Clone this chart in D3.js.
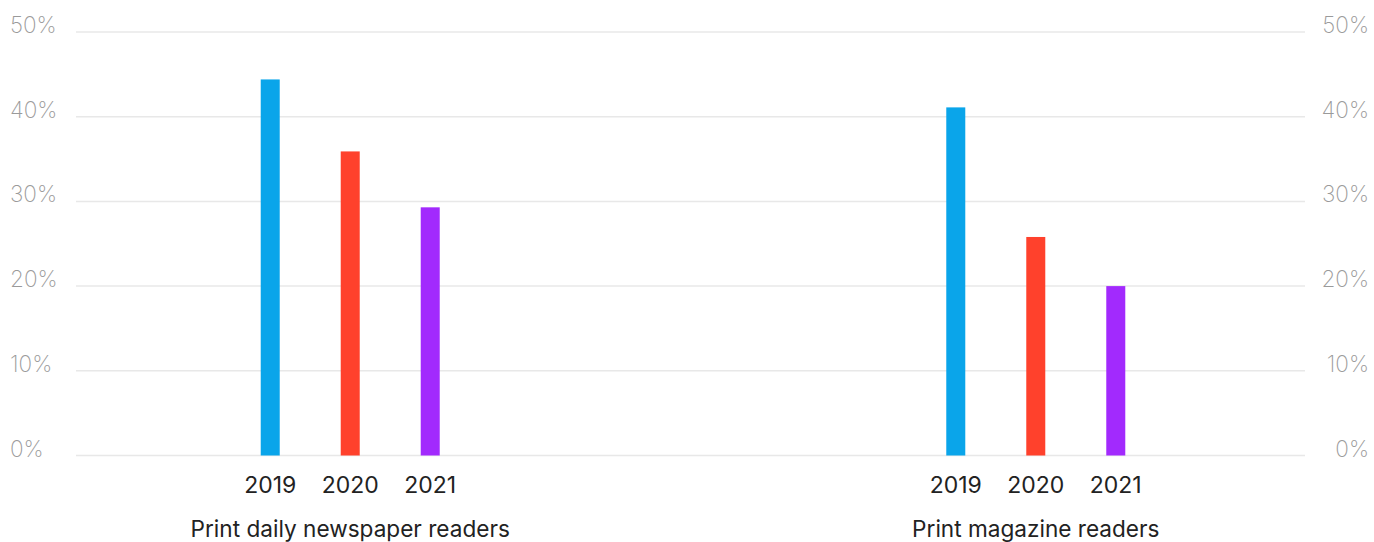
<!DOCTYPE html>
<html>
<head>
<meta charset="utf-8">
<script src="https://cdn.jsdelivr.net/npm/d3@7/dist/d3.min.js"></script>
<style>
  html, body { margin: 0; padding: 0; background: #fff; }
  svg { display: block; }
  .tick-label { font-family: Inter, "Open Sans", sans-serif; font-weight: 200; font-size: 22.5px; fill: #9a9a9a; }
  .year-label { font-family: Inter, "Open Sans", sans-serif; font-weight: 400; font-size: 23px; fill: #222; }
  .group-label { font-family: Inter, "Open Sans", sans-serif; font-weight: 400; font-size: 22.6px; fill: #222; }
</style>
</head>
<body>
<svg id="chart" width="1374" height="542"></svg>
<script>
// Reader groups and survey years
const groups = ["Print daily newspaper readers", "Print magazine readers"];
const years = ["2019", "2020", "2021"];
// Share of respondents (%) per group, one value per year
const newspaperValues = [44.4, 35.9, 29.3];
const magazineValues = [41.1, 25.8, 20.0];
const yearColors = ["#0aa5ea", "#ff412c", "#a22afd"];
const yTicks = [0, 10, 20, 30, 40, 50];

const seriesByGroup = [newspaperValues, magazineValues];
const data = groups.map((g, gi) => years.map((yr, yi) => ({ group: g, year: yr, value: seriesByGroup[gi][yi] })));

const svg = d3.select("#chart");
const plotLeft = 76, plotRight = 1305;

const y = d3.scaleLinear().domain([0, 50]).range([455.5, 32]);
const xGroup = d3.scalePoint().domain(groups).range([76, 1310]).padding(0.4);
const xYear = d3.scalePoint().domain(years).range([-80, 80]);
const barWidth = 19;
const color = d3.scaleOrdinal().domain(years).range(yearColors);

// horizontal gridlines
svg.append("g").selectAll("line").data(yTicks).join("line")
  .attr("x1", plotLeft).attr("x2", plotRight)
  .attr("y1", d => y(d)).attr("y2", d => y(d))
  .attr("stroke", "#e8e8e8").attr("stroke-width", 1.5);

// left and right tick labels
svg.append("g").selectAll("text").data(yTicks).join("text")
  .attr("class", "tick-label")
  .attr("x", 10).attr("y", d => y(d) + 1)
  .attr("text-anchor", "start")
  .text(d => d + "%");
svg.append("g").selectAll("text").data(yTicks).join("text")
  .attr("class", "tick-label")
  .attr("x", 1369).attr("y", d => y(d) + 1)
  .attr("text-anchor", "end")
  .text(d => d + "%");

// bars per group
const g = svg.append("g").selectAll("g").data(data).join("g")
  .attr("transform", d => `translate(${xGroup(d[0].group)},0)`);

g.selectAll("rect").data(d => d).join("rect")
  .attr("x", d => xYear(d.year) - barWidth / 2)
  .attr("width", barWidth)
  .attr("y", d => y(d.value))
  .attr("height", d => y(0) - y(d.value))
  .attr("fill", d => color(d.year));

g.selectAll("text.year-label").data(d => d).join("text")
  .attr("class", "year-label")
  .attr("x", d => xYear(d.year))
  .attr("y", 493)
  .attr("text-anchor", "middle")
  .text(d => d.year);

g.append("text")
  .attr("class", "group-label")
  .attr("x", 0).attr("y", 537)
  .attr("text-anchor", "middle")
  .text(d => d[0].group);
</script>
</body>
</html>
